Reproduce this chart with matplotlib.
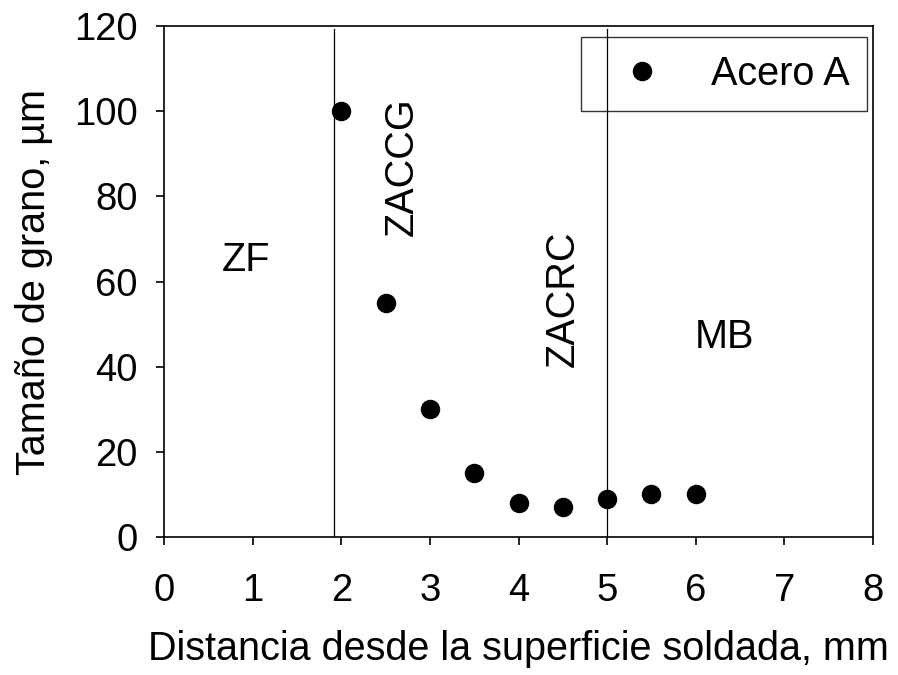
import matplotlib
matplotlib.use("Agg")
import matplotlib.pyplot as plt

plt.rcParams['font.family'] = ['Liberation Sans', 'DejaVu Sans']

# grain size vs distance from the welded surface
distancia = [2.0, 2.5, 3.0, 3.5, 4.0, 4.5, 5.0, 5.5, 6.0]
tamano = [100, 55, 30, 15, 8, 7, 9, 10, 10]

# zone boundaries
limites = [1.92, 5.0]

# zone labels: text, x, y, rotation
zonas = ['ZF', 'ZACCG', 'ZACRC', 'MB']
zonas_x = [0.93, 2.68, 4.5, 6.32]
zonas_y = [65, 87, 56, 47]
zonas_rot = [0, 90, 90, 0]

fig = plt.figure(figsize=(8.98, 6.75), dpi=100)
ax = fig.add_axes([0.1826, 0.2044, 0.7896, 0.7571])

ax.plot(distancia, tamano, 'o', color='black', markersize=13, label='Acero A', zorder=3)

for xl in limites:
    ax.axvline(xl, color='black', linewidth=0.9, ymax=0.995)

for txt, xt, yt, rot in zip(zonas, zonas_x, zonas_y, zonas_rot):
    ax.text(xt, yt, txt, fontsize=28.5, rotation=rot, ha='center', va='center')

ax.set_xlim(0, 8)
ax.set_ylim(0, 120)
ax.set_xticks(range(0, 9))
ax.set_yticks(range(0, 121, 20))
ax.tick_params(direction='out', length=6, width=1.2, labelsize=27.5)
ax.tick_params(axis='x', pad=20)
ax.tick_params(axis='y', pad=13)
for sp in ax.spines.values():
    sp.set_linewidth(1.2)

ax.set_xlabel('Distancia desde la superficie soldada, mm', fontsize=28.5, labelpad=15)
ax.set_ylabel('Tamaño de grano, µm', fontsize=28.5, labelpad=15)

leg = ax.legend(loc='upper right', bbox_to_anchor=(0.9915, 0.978), borderaxespad=0,
                fontsize=28.5, frameon=True, fancybox=False, edgecolor='black',
                borderpad=0.45, handlelength=2.2, handletextpad=0.62, numpoints=1)
# transparent box so the zone line shows through it
leg.get_frame().set_facecolor('none')
leg.get_frame().set_linewidth(1.0)

plt.savefig('out.png', dpi=100)
